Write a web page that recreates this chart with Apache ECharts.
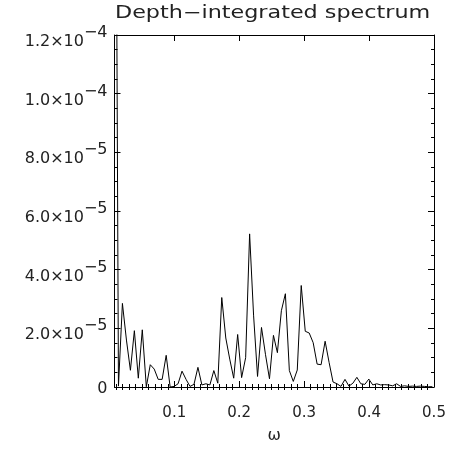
<!DOCTYPE html>
<html><head><meta charset="utf-8">
<script src="https://cdn.jsdelivr.net/npm/echarts@6/dist/echarts.min.js"></script>
<style>html,body{margin:0;padding:0;background:#fff}#c{width:454px;height:449px}</style>
</head><body><div id="c"></div>
<script>
const omega = [0.0079,0.0140,0.0201,0.0263,0.0324,0.0385,0.0446,0.0507,0.0569,0.0630,
0.0691,0.0752,0.0813,0.0875,0.0936,0.0997,0.1058,0.1119,0.1181,0.1242,
0.1303,0.1364,0.1425,0.1487,0.1548,0.1609,0.1670,0.1731,0.1793,0.1854,
0.1915,0.1976,0.2037,0.2099,0.2160,0.2221,0.2282,0.2343,0.2405,0.2466,
0.2527,0.2588,0.2649,0.2711,0.2772,0.2833,0.2894,0.2955,0.3017,0.3078,
0.3139,0.3200,0.3261,0.3323,0.3384,0.3445,0.3506,0.3567,0.3629,0.3690,
0.3751,0.3812,0.3873,0.3935,0.3996,0.4057,0.4118,0.4179,0.4241,0.4302,
0.4363,0.4424,0.4485,0.4547,0.4608,0.4669,0.4730,0.4791,0.4853,0.4914,0.4975];
const spectrum = [3.0e-4,0.3e-6,2.85e-5,1.6e-5,5.7e-6,1.92e-5,3.0e-6,1.95e-5,0.1e-6,7.6e-6,
6.1e-6,2.6e-6,2.6e-6,1.08e-5,0.0,0.2e-6,1.1e-6,5.4e-6,2.6e-6,0.2e-6,
0.9e-6,6.7e-6,0.7e-6,1.1e-6,0.7e-6,5.6e-6,1.3e-6,3.05e-5,1.67e-5,9.5e-6,
3.0e-6,1.79e-5,3.2e-6,1.0e-5,5.22e-5,2.45e-5,3.6e-6,2.03e-5,1.1e-5,2.8e-6,
1.76e-5,1.17e-5,2.6e-5,3.18e-5,5.6e-6,1.9e-6,5.8e-6,3.46e-5,1.9e-5,1.84e-5,
1.51e-5,7.8e-6,7.6e-6,1.56e-5,8.4e-6,1.7e-6,1.1e-6,0.2e-6,2.6e-6,0.3e-6,
1.3e-6,3.3e-6,1.1e-6,0.9e-6,2.7e-6,0.7e-6,1.1e-6,0.7e-6,0.8e-6,0.7e-6,
0.4e-6,1.1e-6,0.2e-6,0.4e-6,0.2e-6,0.3e-6,0.2e-6,0.3e-6,0.2e-6,0.1e-6,0.1e-6];
const xMajorTicks = [0.1,0.2,0.3,0.4,0.5];
const xTickLabels = ['0.1','0.2','0.3','0.4','0.5'];
const xMinorTicks = [0.01,0.02,0.03,0.04,0.05,0.06,0.07,0.08,0.09,
  0.11,0.12,0.13,0.14,0.15,0.16,0.17,0.18,0.19,
  0.21,0.22,0.23,0.24,0.25,0.26,0.27,0.28,0.29,
  0.31,0.32,0.33,0.34,0.35,0.36,0.37,0.38,0.39,
  0.41,0.42,0.43,0.44,0.45,0.46,0.47,0.48,0.49];
const yTicks = [0,2e-5,4e-5,6e-5,8e-5,1e-4,1.2e-4];
const yTickMantissa = ['0','2.0×10','4.0×10','6.0×10','8.0×10','1.0×10','1.2×10'];
const yTickExponent = ['','−5','−5','−5','−5','−4','−4'];
const titleText = 'Depth−integrated spectrum';
const xName = 'ω';

const chart = echarts.init(document.getElementById('c'), null, {renderer:'canvas'});
const FONT = 'DejaVu Sans';
const TXT = '#222';
const X0 = omega[0], X1 = 0.5;
const grid = {left:114.5, right:20, top:35, bottom:55.7};
const baseX = (pos, ticks, len, labels) => ({
  type:'value', min:X0, max:X1, position:pos, gridIndex:0,
  axisLine:{show:false},
  splitLine:{show:false},
  axisTick:{show:true, inside:true, length:len, customValues:ticks, lineStyle:{color:'#000',width:1}},
  axisLabel: labels ? {show:true, customValues:ticks, margin:19, fontFamily:FONT, fontSize:15, color:TXT,
     formatter:(v)=>{const i=xMajorTicks.findIndex(t=>Math.abs(t-v)<1e-9);return i>=0?xTickLabels[i]:'';}} : {show:false}
});
const yLabelFmt = (v)=>{
  const i = yTicks.findIndex(t=>Math.abs(t-v)<1e-12);
  if (i<0) return '';
  if (!yTickExponent[i]) return '{z|'+yTickMantissa[i]+'}';
  return '{m|'+yTickMantissa[i]+'}{e|'+yTickExponent[i]+'}';
};
const baseY = (pos, labels) => ({
  type:'value', min:0, max:1.2e-4, interval:2e-5, position:pos,
  axisLine:{show:true, onZero:false, lineStyle:{color:'#000',width:1}},
  splitLine:{show:false},
  axisTick:{show:true, inside:true, length:6, lineStyle:{color:'#000',width:1}},
  minorTick:{show:true, splitNumber:4, length:3, lineStyle:{color:'#000',width:1}},
  axisLabel: labels ? {show:true, margin:7, formatter:yLabelFmt,
    rich:{m:{fontFamily:FONT,fontSize:16,color:TXT,padding:[14,0,0,0]},
          e:{fontFamily:FONT,fontSize:16,color:TXT,padding:[0,0,4,0]},
          z:{fontFamily:FONT,fontSize:16,color:TXT,padding:[3,0,0,0]}}} : {show:false}
});
chart.setOption({
  animation:false,
  backgroundColor:'#fff',
  grid:grid,
  xAxis:[
    Object.assign(baseX('bottom', xMajorTicks, 6, true), {axisLine:{show:true,onZero:false,lineStyle:{color:'#000',width:1}},
       name:xName, nameLocation:'middle', nameGap:41, nameTextStyle:{fontFamily:FONT,fontSize:16,color:TXT}}),
    baseX('bottom', xMinorTicks, 3, false),
    Object.assign(baseX('top', xMajorTicks, 6, false), {axisLine:{show:true,onZero:false,lineStyle:{color:'#000',width:1}}}),
    baseX('top', xMinorTicks, 3, false)
  ],
  yAxis:[baseY('left', true), baseY('right', false)],
  graphic:[{type:'text', left:115, top:5, scaleX:1.31,
    style:{text:titleText, fontFamily:FONT, fontSize:17, fill:TXT}}],
  series:[{type:'line', xAxisIndex:0, yAxisIndex:0, data:omega.map((w,i)=>[w,spectrum[i]]),
    showSymbol:false, symbol:'none', clip:true, lineStyle:{color:'#000',width:1}}]
});
</script></body></html>
